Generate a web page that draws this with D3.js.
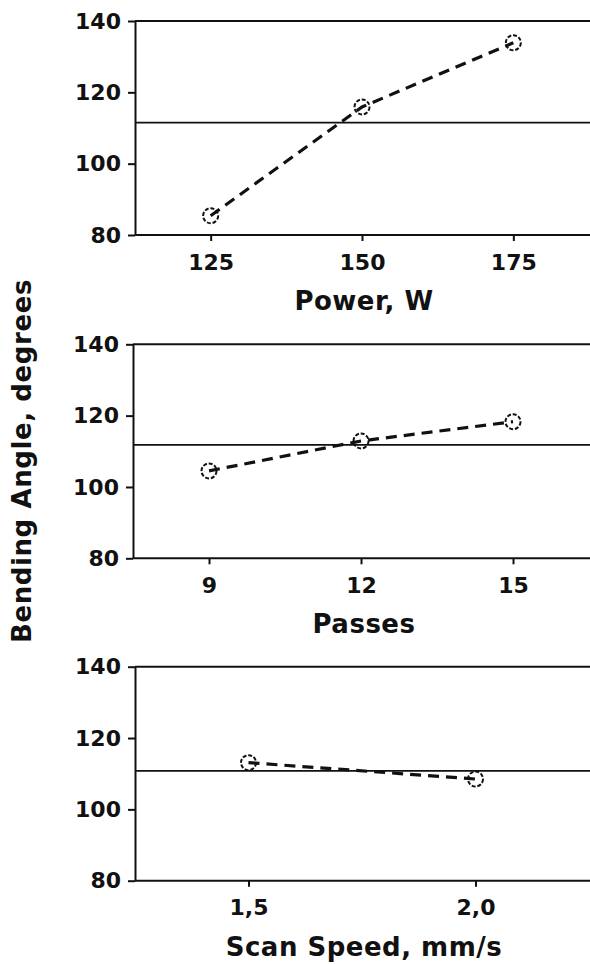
<!DOCTYPE html>
<html>
<head>
<meta charset="utf-8">
<script src="https://cdn.jsdelivr.net/npm/d3@7"></script>
<style>
  html, body { margin: 0; padding: 0; background: #fff; }
  svg { display: block; }
  text { font-family: "DejaVu Sans", Verdana, sans-serif; font-weight: bold; fill: #111; }
</style>
</head>
<body>
<svg id="chart" width="590" height="964"></svg>
<script>
// ---- data ----
const powerCats = ["125", "150", "175"];
const powerVals = [85.4, 115.9, 133.9];
const passCats = ["9", "12", "15"];
const passVals = [104.5, 112.9, 118.3];
const speedCats = ["1,5", "2,0"];
const speedVals = [113.1, 108.5];
const meanLines = [111.5, 111.8, 110.8];
const yTicks = [80, 100, 120, 140];
const xTitles = ["Power, W", "Passes", "Scan Speed, mm/s"];
const yTitle = "Bending Angle, degrees";

const panels = [
  { cats: powerCats, vals: powerVals, mean: meanLines[0], title: xTitles[0] },
  { cats: passCats, vals: passVals, mean: meanLines[1], title: xTitles[1] },
  { cats: speedCats, vals: speedVals, mean: meanLines[2], title: xTitles[2] }
];

// ---- layout ----
const tops = [21, 344.3, 666.7];
const lefts = [135, 133, 135];
const plotH = 214;
const right = 589;

const svg = d3.select("#chart");

panels.forEach((p, i) => {
  const top = tops[i], left = lefts[i];
  const g = svg.append("g");
  const x = d3.scalePoint().domain(p.cats).range([left, right]).padding(0.5);
  const y = d3.scaleLinear().domain([80, 140]).range([top + plotH, top]);

  // top border
  g.append("line")
    .attr("x1", left).attr("x2", 590)
    .attr("y1", y(140)).attr("y2", y(140))
    .attr("stroke", "#111").attr("stroke-width", 2);

  // y axis
  const ya = g.append("g")
    .attr("transform", `translate(${left},0)`)
    .call(d3.axisLeft(y).tickValues(yTicks).tickSize(7).tickPadding(7).tickSizeOuter(0));
  ya.selectAll("path, line").attr("stroke", "#111").attr("stroke-width", 2);
  ya.selectAll("text").style("font-size", "22px").attr("fill", "#111");

  // x axis
  const xa = g.append("g")
    .attr("transform", `translate(0,${y(80)})`)
    .call(d3.axisBottom(x).tickSize(6).tickPadding(13).tickSizeOuter(0));
  xa.select(".domain").attr("d", `M${left},0H590`);
  xa.selectAll("path, line").attr("stroke", "#111").attr("stroke-width", 2);
  xa.selectAll("text").style("font-size", "22px").attr("fill", "#111");

  // mean reference line
  g.append("line")
    .attr("x1", left).attr("x2", 590)
    .attr("y1", y(p.mean)).attr("y2", y(p.mean))
    .attr("stroke", "#111").attr("stroke-width", 1.6);

  const pts = p.cats.map((c, j) => [x(c), y(p.vals[j])]);

  // dashed data line
  g.append("path")
    .attr("d", d3.line()(pts))
    .attr("fill", "none")
    .attr("stroke", "#111")
    .attr("stroke-width", 3.2)
    .attr("stroke-dasharray", "11,7");

  // markers
  g.selectAll("circle.m")
    .data(pts)
    .join("circle")
    .attr("class", "m")
    .attr("cx", d => d[0]).attr("cy", d => d[1])
    .attr("r", 7.5)
    .attr("fill", "none")
    .attr("stroke", "#111")
    .attr("stroke-width", 2)
    .attr("stroke-dasharray", "4,1.8");

  // x title
  g.append("text")
    .attr("x", 364)
    .attr("y", y(80) + 75)
    .attr("text-anchor", "middle")
    .style("font-size", "26px")
    .style("letter-spacing", "0.5px")
    .text(p.title);
});

// y title
svg.append("text")
  .attr("transform", "translate(31,461) rotate(-90)")
  .attr("text-anchor", "middle")
  .style("font-size", "26px")
  .style("letter-spacing", "0.6px")
  .text(yTitle);
</script>
</body>
</html>
